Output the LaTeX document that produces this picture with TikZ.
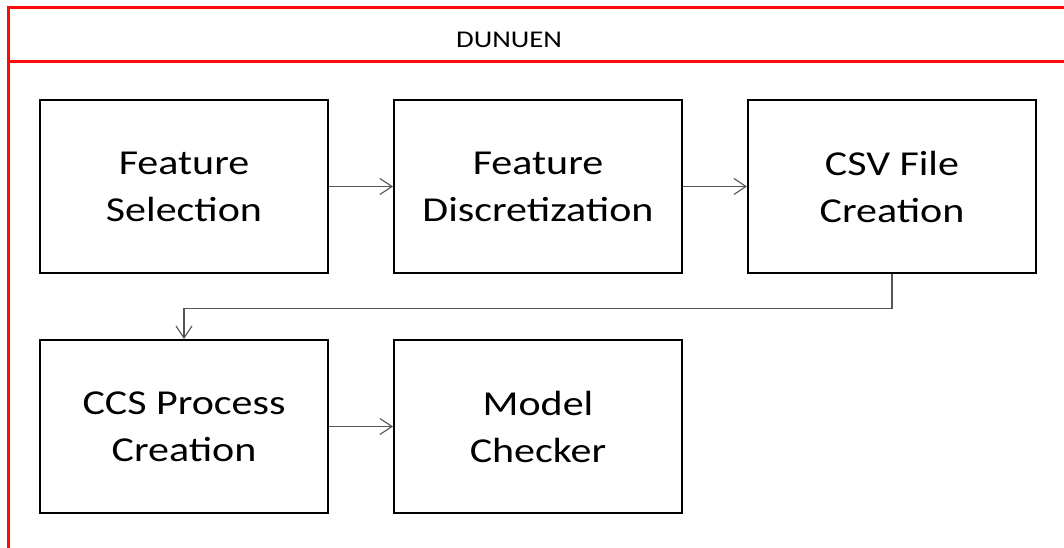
\documentclass[tikz,border=0pt]{standalone}
\usepackage{fontspec}
\usetikzlibrary{arrows.meta}
\newfontfamily\boxfont[FakeStretch=1.2]{Carlito}
\definecolor{framered}{RGB}{255,10,10}
\definecolor{linkgray}{RGB}{85,85,85}
\begin{document}
\begin{tikzpicture}[x=1pt,y=-1pt,
  stagebox/.style={draw=black, line width=2.2pt, minimum width=288pt, minimum height=173pt,
    inner sep=0pt, align=center, font=\boxfont\fontsize{35}{47}\selectfont},
  link/.style={draw=linkgray, line width=1.1pt,
    -{Straight Barb[length=12pt,width=16pt,line width=1.1pt]}}]
  \useasboundingbox (0,0) rectangle (1064,548);
  \clip (0,0) rectangle (1064,548);
  % container with its title band
  \draw[framered, line width=3pt] (8,600) -- (8,8) -- (1100,8);
  \draw[framered, line width=3pt] (8,62) -- (1100,62);
  \node[font=\boxfont\fontsize{24}{28}\selectfont] (title) at (509,40) {DUNUEN};
  % processing stages
  \node[stagebox] (sel)  at (184,186.5) {Feature\\Selection};
  \node[stagebox] (disc) at (538,186.5) {Feature\\Discretization};
  \node[stagebox] (csv)  at (892,186.5) {CSV File\\Creation};
  \node[stagebox] (ccs)  at (184,426.5) {CCS Process\\Creation};
  \node[stagebox] (mc)   at (538,426.5) {Model\\Checker};
  % flow between stages
  \draw[link] (sel) -- (disc);
  \draw[link] (disc) -- (csv);
  \draw[link] (csv.south) -- ++(0,34) -| (ccs.north);
  \draw[link] (ccs) -- (mc);
\end{tikzpicture}
\end{document}
